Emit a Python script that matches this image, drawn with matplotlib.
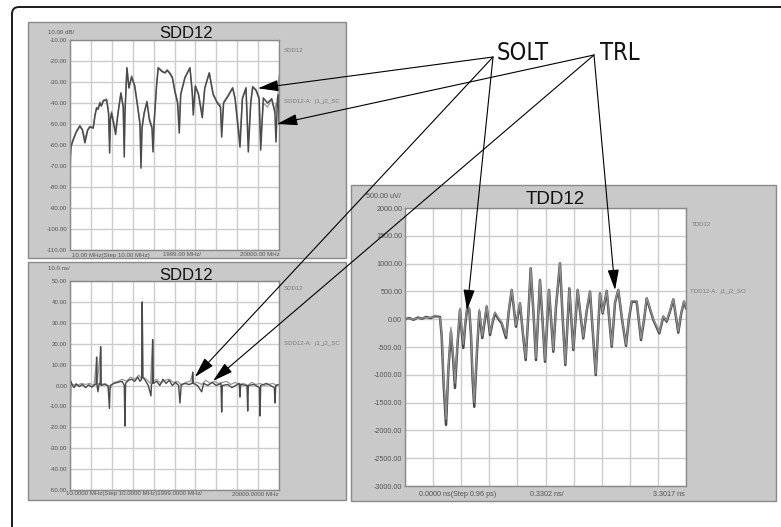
import matplotlib
matplotlib.use("Agg")
import matplotlib.pyplot as plt
from matplotlib.patches import Rectangle, FancyBboxPatch
from matplotlib.ticker import FormatStrFormatter
import numpy as np

plt.rcParams['font.family'] = ['Liberation Sans', 'DejaVu Sans']

# --- SDD12 magnitude (dB) vs frequency (MHz) ---
sdd_freq = [10, 50, 100, 316, 600, 957, 1200, 1436, 1700, 1914,
            2230, 2400, 2555, 2700, 2871, 3000, 3200, 3512, 3700, 3800,
            3870, 3990, 4373, 4600, 4881, 5100, 5200, 5264, 5455, 5646,
            5905, 6200, 6479, 6700, 6800, 6900, 7100, 7369, 7600, 7850,
            7950, 8050, 8294, 8450, 8800, 9090, 9300, 9570, 9800, 10049,
            10300, 10460, 10600, 11006, 11484, 11700, 11800, 12000, 12300, 12661,
            12900, 13331, 13700, 14100, 14400, 14518, 14700, 15100, 15570, 15800,
            16269, 16500, 16843, 17063, 17300, 17484, 17800, 18100, 18250, 18499,
            18900, 19300, 19600, 19714, 19850, 19950, 20000]
sdd_mag_solt = [-79, -66, -61, -57.6, -54, -51, -53, -59, -53, -51.4,
                -52, -46, -42.4, -43, -40, -41.5, -39, -38.6, -45, -63.8,
                -48, -44.8, -55, -45, -35.3, -42, -65.7, -45, -23.3, -32.9,
                -27.6, -32, -41.9, -50, -71, -52, -45, -39.5, -48, -52,
                -63.3, -50, -31.4, -23.3, -25, -25.7, -24.5, -26, -28, -34.8,
                -40, -54.3, -36, -28, -23.3, -35, -45.7, -32, -36, -47,
                -33, -25.7, -36, -40, -42, -56.2, -40, -37, -32.9, -38,
                -61, -38, -32.9, -63.3, -40, -32.4, -34, -38, -62.4, -37.6,
                -40, -38, -44, -58.6, -38, -36, -50]
sdd_mag_trl = [-76, -65, -60, -57, -53.5, -50.5, -52.5, -57, -52.5, -51,
               -51.5, -45.5, -42, -42.5, -39.5, -41, -38.5, -38, -44, -58,
               -47, -44, -53, -44.5, -35, -41.5, -60, -44, -23, -32.5,
               -27, -31.5, -41, -49, -65, -51, -44.5, -39, -47, -51,
               -58, -49, -31, -23, -24.5, -25.5, -24, -25.5, -27.5, -34,
               -39, -50, -35.5, -27.5, -23, -34.5, -43, -31.5, -35.5, -45,
               -32.5, -25.5, -35.5, -39.5, -41, -52, -39.5, -36.5, -32.5, -37.5,
               -57, -37.5, -32.5, -58, -39, -32, -33.5, -37, -58, -40,
               -42, -38, -45, -40, -42, -30, -27]

# --- SDD12 group delay (ns) vs frequency (MHz) ---
gd_freq_solt = [10, 40, 80, 200, 400, 600, 900, 1200, 1500, 1800,
                2100, 2400, 2500, 2555, 2600, 2680, 2800, 2900, 2938, 2990,
                3300, 3650, 3780, 3850, 4200, 4600, 5000, 5200, 5264, 5330,
                5600, 5900, 6200, 6500, 6700, 6860, 6919, 6980, 7200, 7500,
                7752, 7800, 7860, 7914, 7980, 8300, 8600, 8900, 9200, 9500,
                9800, 10100, 10400, 10527, 10650, 11000, 11400, 11700, 11742, 11800,
                12200, 12604, 12800, 13200, 13600, 14000, 14450, 14518, 14580, 15100,
                15500, 16200, 16269, 16330, 16940, 17006, 17070, 17600, 18120, 18183,
                18250, 18800, 19550, 19618, 19690, 20000]
gd_solt = [17, -13, 2, 0.5, -1, 0.8, -0.5, 0.5, -1, 0.3,
           -0.8, 0.5, 0.5, 13.6, 0, -3, 1, 0.5, 18.6, 0,
           0.5, 0, -11, 0, 1, 1.5, 2, 0, -19.4, 1,
           2.5, 3, 2, 4, 2, 3, 40, 4, 2.5, 0,
           -5, 0.5, 1, 22, 1, 2, 0, 3, 1, 2.5,
           0, 1.5, 0, -8.4, 0.5, 1, 0.5, 1, 6.4, 1,
           0, -3, 1, 0, 1.5, 0, 1, -12.7, 0, 0.5,
           -1, 1, -5.5, 0.5, 0, -12.2, 0, 0.5, -1, -14.6,
           0, 1, -1, -8.4, 0, 0.5]
gd_freq_trl = [10, 60, 300, 700, 1100, 1500, 1900, 2300, 2555, 2600,
               2938, 3000, 3400, 3800, 4200, 4600, 5000, 5400, 5800, 6200,
               6600, 6860, 6919, 6980, 7300, 7700, 7914, 7980, 8300, 8700,
               9100, 9500, 9900, 10300, 10700, 11100, 11500, 11742, 11800, 12200,
               12600, 13000, 13400, 13800, 14200, 14600, 15000, 15400, 15800, 16200,
               16600, 17000, 17400, 17800, 18200, 18600, 19000, 19400, 19800, 20000]
gd_trl = [17, 1, 0.5, 0, 1, 0.5, 1, 0, 12, 1,
          17, 0.5, 1, -2, 1.5, 2, 3, 2, 4, 3,
          5, 3, 39, 4, 3, 1, 21, 2, 3, 1,
          2.5, 3, 1.5, 2, 0, 1.5, 2, 5.5, 1, 1.5,
          0.5, 2.5, 1, 2, 1, 1.5, 2, 0.5, 1.5, 0.5,
          1, 0, 1.5, 0.5, 1, 0, 0.5, 1, 0, 0.5]

# --- TDD12 step response (uV) vs time (ns) ---
tdd_time = [0, 0.05, 0.10, 0.15, 0.20, 0.25, 0.30, 0.35, 0.411, 0.431,
            0.455, 0.482, 0.510, 0.540, 0.565, 0.587, 0.615, 0.646, 0.665, 0.685,
            0.708, 0.732, 0.755, 0.776, 0.795, 0.814, 0.845, 0.873, 0.908, 0.935,
            0.960, 0.999, 1.030, 1.057, 1.100, 1.136, 1.187, 1.220, 1.254, 1.304,
            1.351, 1.385, 1.418, 1.450, 1.477, 1.510, 1.539, 1.586, 1.615, 1.645,
            1.692, 1.743, 1.774, 1.821, 1.850, 1.884, 1.931, 1.978, 2.029, 2.060,
            2.095, 2.135, 2.174, 2.210, 2.241, 2.291, 2.323, 2.370, 2.400, 2.429,
            2.468, 2.506, 2.550, 2.597, 2.630, 2.664, 2.722, 2.773, 2.810, 2.840,
            2.918, 2.988, 3.035, 3.075, 3.115, 3.153, 3.211, 3.245, 3.278, 3.302]
tdd_solt = [0, 20, -10, 30, 10, 40, 20, 50, 40, -300,
            -1200, -1900, -900, -224, -700, -1237, -500, 165, -200, -518,
            -100, 225, 180, -300, -1100, -1575, -600, 135, -338, -50,
            225, -284, -50, 105, 0, -74, -338, 150, 525, -135,
            285, -250, -734, 100, 915, 100, -734, 705, 0, -765,
            525, -585, 225, 1005, 100, -824, 555, -554, 525, 100,
            -345, 150, 495, -300, -1004, 465, 105, 510, 0, -494,
            300, 525, 0, -480, 0, 315, 315, -374, 0, 375,
            -14, -254, 45, -44, 150, 357, -242, 100, 315, 200]
tdd_trl = [0, 10, 0, 20, 20, 30, 30, 40, 30, -250,
           -1100, -1800, -850, -150, -650, -1150, -450, 200, -150, -450,
           -50, 260, 200, -250, -1000, -1500, -550, 180, -300, -20,
           250, -250, -30, 130, 20, -50, -300, 170, 540, -110,
           300, -230, -700, 120, 930, 120, -700, 720, 20, -740,
           540, -560, 240, 1020, 120, -800, 570, -530, 540, 120,
           -320, 170, 510, -280, -980, 480, 120, 520, 20, -470,
           320, 540, 20, -460, 20, 330, 330, -350, 20, 390,
           0, -230, 60, -30, 170, 370, -220, 120, 330, 220]

W, H = 781, 527
fig = plt.figure(figsize=(W / 100, H / 100), dpi=100)


def rect(x0, y0, x1, y1):
    # pixel box (top-left origin) -> figure fraction
    return [x0 / W, 1 - y1 / H, (x1 - x0) / W, (y1 - y0) / H]


# background layer: outer frame and the grey instrument panels
bg = fig.add_axes([0, 0, 1, 1])
bg.set_xlim(0, W)
bg.set_ylim(H, 0)
bg.axis('off')
bg.add_patch(FancyBboxPatch((12, 7), 820, 560, boxstyle='round,pad=0,rounding_size=7',
                            fill=False, ec='#1a1a1a', lw=1.4))
for x0, y0, x1, y1 in [(28, 22, 346, 258), (28, 262, 346, 500), (351, 185, 776, 501)]:
    bg.add_patch(Rectangle((x0, y0), x1 - x0, y1 - y0, fc='#c9c9c9', ec='#8a8a8a', lw=1.0))

small = dict(fontsize=4.4, color='#555555', va='center')
side = dict(fontsize=4.4, color='#7a7a7a', va='center', ha='left')
title = dict(ha='center', va='center', color='#111111')


def scope_axes(box, xlim, ylim, yticks, xticks, tick_fs):
    ax = fig.add_axes(rect(*box))
    ax.set_facecolor('white')
    ax.set_xlim(*xlim)
    ax.set_ylim(*ylim)
    ax.set_xticks(xticks)
    ax.set_yticks(yticks)
    ax.yaxis.set_major_formatter(FormatStrFormatter('%.2f'))
    ax.tick_params(length=0, labelbottom=False, labelsize=tick_fs,
                   labelcolor='#555555', pad=2)
    ax.grid(True, color='#cccccc', lw=1.0)
    ax.set_axisbelow(True)
    for s in ax.spines.values():
        s.set_color('#8a8a8a')
        s.set_linewidth(1.0)
    return ax


div_f = np.arange(11) * 1999 + 10

# top-left: magnitude
ax1 = scope_axes((70, 40, 279, 250), (10, 20000), (-110, -10),
                 np.arange(-110, -9, 10), div_f, 4.4)
ax1.plot(sdd_freq, sdd_mag_trl, color='#9a9a9a', lw=0.9)
ax1.plot(sdd_freq, sdd_mag_solt, color='#4a4a4a', lw=1.1)
bg.text(186, 34, 'SDD12', fontsize=12, **title)
bg.text(48, 33, '10.00 dB/', ha='left', **small)
bg.text(72, 255, '10.00 MHz(Step 10.00 MHz)', ha='left', **small)
bg.text(163, 255, '1999.00 MHz/', ha='left', **small)
bg.text(280, 255, '20000.00 MHz', ha='right', **small)
bg.text(284, 51, 'SDD12', **side)
bg.text(284, 101, 'SDD12-A:  j1_j2_SC', **side)

# bottom-left: group delay
ax2 = scope_axes((70, 281, 279, 490), (10, 20000), (-50, 50),
                 np.arange(-50, 51, 10), div_f, 4.4)
ax2.plot(gd_freq_trl, gd_trl, color='#9a9a9a', lw=0.9)
ax2.plot(gd_freq_solt, gd_solt, color='#4a4a4a', lw=1.0)
bg.text(186, 275, 'SDD12', fontsize=12, **title)
bg.text(48, 268, '10.0 ns/', ha='left', **small)
bg.text(66, 494, '10.0000 MHz(Step 10.0000 MHz)1999.0000 MHz/', ha='left', **small)
bg.text(279, 494, '20000.0000 MHz', ha='right', **small)
bg.text(284, 289, 'SDD12', **side)
bg.text(284, 343, 'SDD12-A:  j1_j2_SC', **side)

# right: time domain
ax3 = scope_axes((405, 208, 686, 486), (0, 3.3017), (-3000, 2000),
                 np.arange(-3000, 2001, 500), np.arange(11) * 0.33017, 5.2)
ax3.plot(tdd_time, tdd_solt, color='#4a4a4a', lw=1.8)
ax3.plot(tdd_time, tdd_trl, color='#8e8e8e', lw=1.0)
bg.text(555, 199, 'TDD12', fontsize=13.5, **title)
bg.text(366, 197, '500.00 uV/', ha='left', fontsize=5.2, color='#555555', va='center')
bg.text(419, 494, '0.0000 ns(Step 0.96 ps)', ha='left', fontsize=5.2, color='#555555', va='center')
bg.text(530, 494, '0.3302 ns/', ha='left', fontsize=5.2, color='#555555', va='center')
bg.text(685, 494, '3.3017 ns', ha='right', fontsize=5.2, color='#555555', va='center')
bg.text(692, 224, 'TDD12', **side)
bg.text(690, 292, 'TDD12-A:  j1_j2_SO', **side)

# overlay: callout labels and arrows
ov = fig.add_axes([0, 0, 1, 1], zorder=10)
ov.set_xlim(0, W)
ov.set_ylim(H, 0)
ov.axis('off')
ov.patch.set_alpha(0)
callout = dict(fontsize=17, va='center', ha='left', color='#111111',
               family=['DejaVu Sans'], fontstretch='condensed')
ov.text(497, 53, 'SOLT', **callout)
ov.text(600, 53, 'TRL', **callout)

arrow = dict(arrowstyle='-|>,head_length=0.9,head_width=0.25', mutation_scale=14,
             lw=0.8, color='black', shrinkA=0, shrinkB=0)
targets = [
    ((493, 57), ax1, (17990, -33)),
    ((493, 57), ax2, (11960, 4.1)),
    ((493, 57), ax3, (0.729, 165)),
    ((594, 55), ax1, (19810, -50)),
    ((594, 55), ax2, (13685, 2.2)),
    ((594, 55), ax3, (2.468, 525)),
]
for start, ax, tip in targets:
    ov.annotate('', xy=tip, xycoords=ax.transData, xytext=start,
                textcoords=ov.transData, arrowprops=arrow, annotation_clip=False)

fig.savefig('out.png', dpi=100, facecolor='white')
